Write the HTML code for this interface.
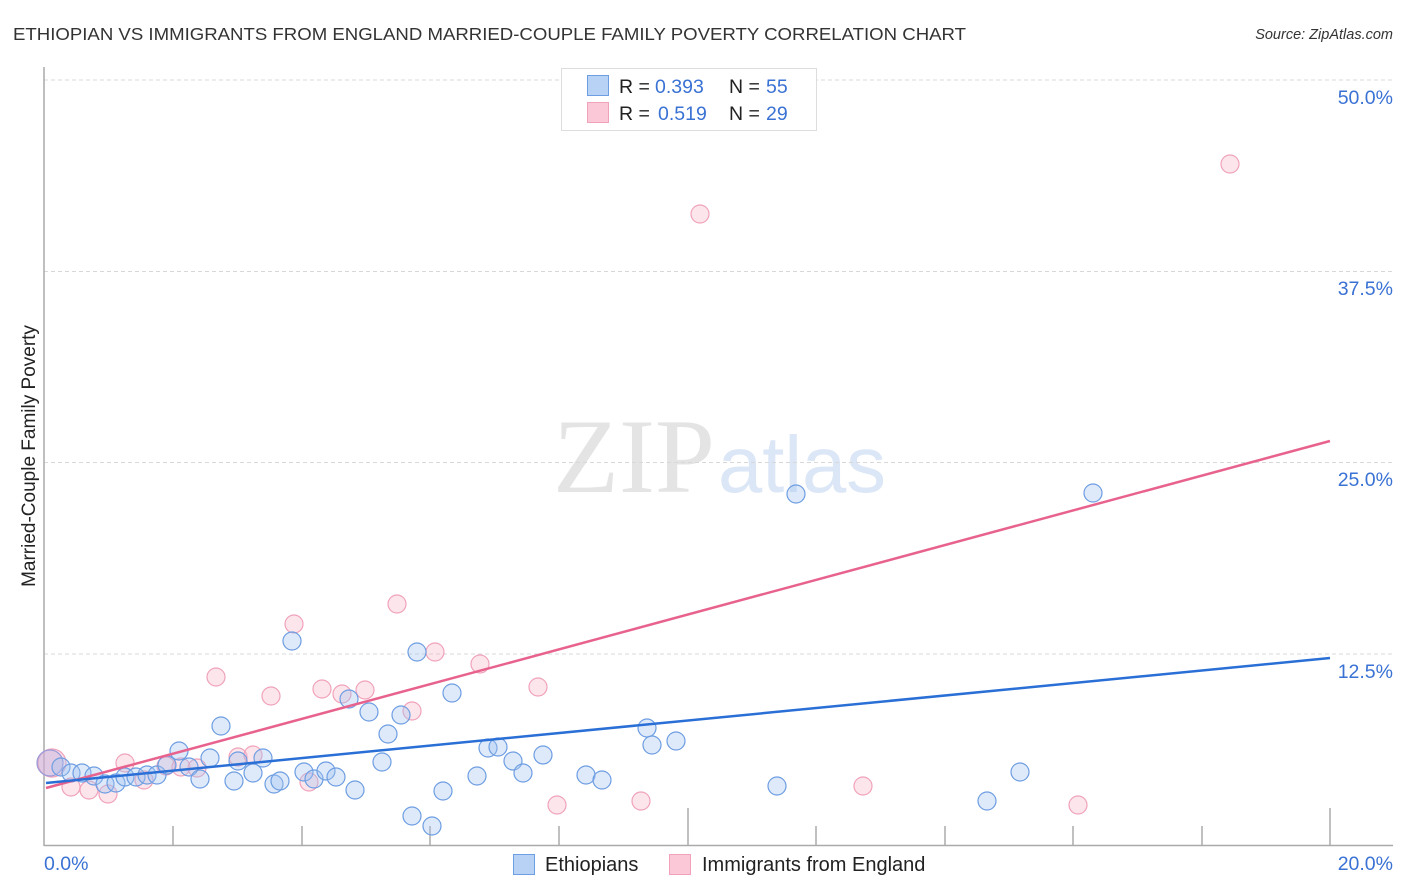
<!DOCTYPE html>
<html><head><meta charset="utf-8"><style>
html,body{margin:0;padding:0;background:#fff;}
svg{display:block;font-family:"Liberation Sans",sans-serif;}
</style></head><body>
<svg width="1406" height="892" viewBox="0 0 1406 892" xmlns="http://www.w3.org/2000/svg">
<rect width="1406" height="892" fill="#fff"/>
<text x="13" y="40" font-size="17.5" fill="#333" textLength="953" lengthAdjust="spacingAndGlyphs">ETHIOPIAN VS IMMIGRANTS FROM ENGLAND MARRIED-COUPLE FAMILY POVERTY CORRELATION CHART</text>
<text x="1393" y="39" font-size="14.5" fill="#333" font-style="italic" text-anchor="end">Source: ZipAtlas.com</text>
<text x="553" y="492" font-family="Liberation Serif,serif" font-size="106" fill="#e4e4e4" textLength="162" lengthAdjust="spacingAndGlyphs">ZIP</text>
<text x="718" y="492" font-size="80" fill="#dbe6f6" textLength="168" lengthAdjust="spacingAndGlyphs">atlas</text>
<g stroke="#d8d8d8" stroke-width="1" stroke-dasharray="4,3">
<line x1="44" y1="80" x2="1393" y2="80"/>
<line x1="44" y1="271.5" x2="1393" y2="271.5"/>
<line x1="44" y1="462.5" x2="1393" y2="462.5"/>
<line x1="44" y1="654" x2="1393" y2="654"/>
</g>
<g stroke="#aaa" stroke-width="1.5">
<line x1="44" y1="67" x2="44" y2="846"/>
<line x1="44" y1="845.5" x2="1393" y2="845.5"/>
<line x1="173" y1="826" x2="173" y2="845"/>
<line x1="302" y1="826" x2="302" y2="845"/>
<line x1="430" y1="826" x2="430" y2="845"/>
<line x1="559" y1="826" x2="559" y2="845"/>
<line x1="688" y1="808" x2="688" y2="845"/>
<line x1="816" y1="826" x2="816" y2="845"/>
<line x1="945" y1="826" x2="945" y2="845"/>
<line x1="1073" y1="826" x2="1073" y2="845"/>
<line x1="1202" y1="826" x2="1202" y2="845"/>
<line x1="1330" y1="808" x2="1330" y2="845"/>
</g>
<g font-size="19.5" fill="#3a72d4" text-anchor="end">
<text x="1393" y="104">50.0%</text>
<text x="1393" y="295">37.5%</text>
<text x="1393" y="486">25.0%</text>
<text x="1393" y="678">12.5%</text>
<text x="1393" y="870">20.0%</text>
</g>
<text x="44" y="870" font-size="19.5" fill="#3a72d4">0.0%</text>
<text transform="translate(35,456) rotate(-90)" font-size="19" fill="#222" text-anchor="middle">Married-Couple Family Poverty</text>
<g fill="rgba(248,180,200,0.35)" stroke="#f0a2ba" stroke-width="1.2">
<circle cx="52" cy="763" r="14"/>
<circle cx="71" cy="787" r="9"/>
<circle cx="89" cy="790" r="9"/>
<circle cx="108" cy="794" r="9"/>
<circle cx="125" cy="763" r="9"/>
<circle cx="144" cy="780" r="9"/>
<circle cx="166" cy="766" r="9"/>
<circle cx="181" cy="767" r="9"/>
<circle cx="197" cy="768" r="9"/>
<circle cx="216" cy="677" r="9"/>
<circle cx="238" cy="757" r="9"/>
<circle cx="253" cy="755" r="9"/>
<circle cx="271" cy="696" r="9"/>
<circle cx="294" cy="624" r="9"/>
<circle cx="309" cy="782" r="9"/>
<circle cx="322" cy="689" r="9"/>
<circle cx="342" cy="694" r="9"/>
<circle cx="365" cy="690" r="9"/>
<circle cx="397" cy="604" r="9"/>
<circle cx="412" cy="711" r="9"/>
<circle cx="435" cy="652" r="9"/>
<circle cx="480" cy="664" r="9"/>
<circle cx="538" cy="687" r="9"/>
<circle cx="557" cy="805" r="9"/>
<circle cx="641" cy="801" r="9"/>
<circle cx="700" cy="214" r="9"/>
<circle cx="863" cy="786" r="9"/>
<circle cx="1078" cy="805" r="9"/>
<circle cx="1230" cy="164" r="9"/>
</g>
<circle cx="50" cy="763" r="13" fill="rgba(190,170,220,0.45)" stroke="#9a9ad8" stroke-width="1.2"/>
<g fill="rgba(160,195,240,0.35)" stroke="#6d9de2" stroke-width="1.2">
<circle cx="61" cy="767" r="9"/>
<circle cx="71" cy="773" r="9"/>
<circle cx="82" cy="773" r="9"/>
<circle cx="94" cy="776" r="9"/>
<circle cx="105" cy="784" r="9"/>
<circle cx="116" cy="783" r="9"/>
<circle cx="125" cy="777" r="9"/>
<circle cx="136" cy="777" r="9"/>
<circle cx="147" cy="775" r="9"/>
<circle cx="157" cy="775" r="9"/>
<circle cx="167" cy="765" r="9"/>
<circle cx="179" cy="751" r="9"/>
<circle cx="189" cy="767" r="9"/>
<circle cx="200" cy="779" r="9"/>
<circle cx="210" cy="758" r="9"/>
<circle cx="221" cy="726" r="9"/>
<circle cx="234" cy="781" r="9"/>
<circle cx="238" cy="761" r="9"/>
<circle cx="253" cy="773" r="9"/>
<circle cx="263" cy="758" r="9"/>
<circle cx="274" cy="784" r="9"/>
<circle cx="280" cy="781" r="9"/>
<circle cx="292" cy="641" r="9"/>
<circle cx="304" cy="772" r="9"/>
<circle cx="314" cy="779" r="9"/>
<circle cx="326" cy="771" r="9"/>
<circle cx="336" cy="777" r="9"/>
<circle cx="349" cy="699" r="9"/>
<circle cx="355" cy="790" r="9"/>
<circle cx="369" cy="712" r="9"/>
<circle cx="382" cy="762" r="9"/>
<circle cx="388" cy="734" r="9"/>
<circle cx="401" cy="715" r="9"/>
<circle cx="412" cy="816" r="9"/>
<circle cx="417" cy="652" r="9"/>
<circle cx="432" cy="826" r="9"/>
<circle cx="443" cy="791" r="9"/>
<circle cx="452" cy="693" r="9"/>
<circle cx="477" cy="776" r="9"/>
<circle cx="488" cy="748" r="9"/>
<circle cx="498" cy="747" r="9"/>
<circle cx="513" cy="761" r="9"/>
<circle cx="523" cy="773" r="9"/>
<circle cx="543" cy="755" r="9"/>
<circle cx="586" cy="775" r="9"/>
<circle cx="602" cy="780" r="9"/>
<circle cx="647" cy="728" r="9"/>
<circle cx="652" cy="745" r="9"/>
<circle cx="676" cy="741" r="9"/>
<circle cx="777" cy="786" r="9"/>
<circle cx="796" cy="494" r="9"/>
<circle cx="987" cy="801" r="9"/>
<circle cx="1020" cy="772" r="9"/>
<circle cx="1093" cy="493" r="9"/>
</g>
<line x1="46" y1="788" x2="1330" y2="441" stroke="#e8628e" stroke-width="2.5"/>
<line x1="46" y1="783" x2="1330" y2="658" stroke="#2a6fd6" stroke-width="2.5"/>
<rect x="561.5" y="68.5" width="255" height="62" fill="#fff" stroke="#ddd" stroke-width="1"/>
<rect x="587.5" y="75.5" width="21" height="20" fill="#b8d2f5" stroke="#6d9de2" stroke-width="1"/>
<rect x="587.5" y="102.5" width="21" height="20" fill="#fbc8d7" stroke="#f0a2ba" stroke-width="1"/>
<g font-size="19.5">
<text x="619" y="93" fill="#222">R =</text>
<text x="655" y="93" fill="#3a72d4">0.393</text>
<text x="729" y="93" fill="#222">N =</text>
<text x="766" y="93" fill="#3a72d4">55</text>
<text x="619" y="120" fill="#222">R =</text>
<text x="658" y="120" fill="#3a72d4">0.519</text>
<text x="729" y="120" fill="#222">N =</text>
<text x="766" y="120" fill="#3a72d4">29</text>
</g>
<rect x="513.5" y="854.5" width="21" height="20" fill="#b8d2f5" stroke="#6d9de2" stroke-width="1"/>
<text x="545" y="871" font-size="20" fill="#222">Ethiopians</text>
<rect x="669.5" y="854.5" width="21" height="20" fill="#fbc8d7" stroke="#f0a2ba" stroke-width="1"/>
<text x="702" y="871" font-size="20" fill="#222">Immigrants from England</text>
</svg>
</body></html>
